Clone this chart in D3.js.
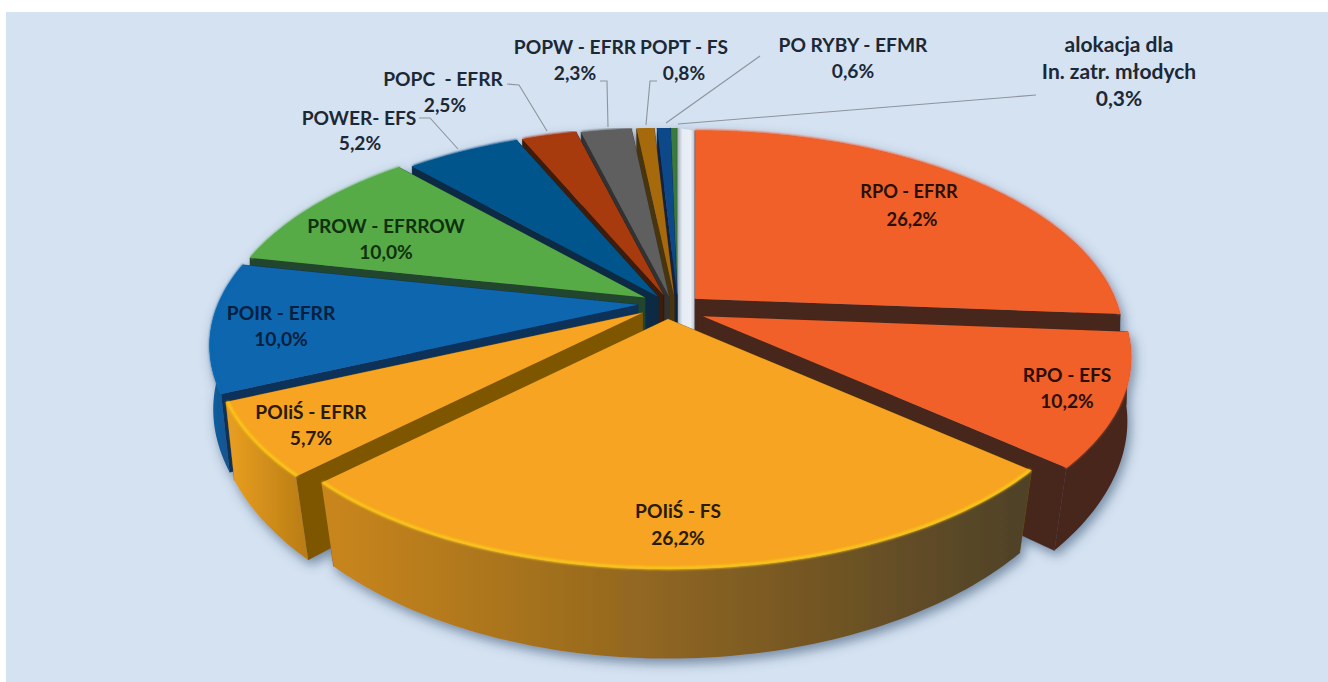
<!DOCTYPE html>
<html><head><meta charset="utf-8">
<script src="https://cdn.jsdelivr.net/npm/d3@7/dist/d3.min.js"></script>
<style>html,body{margin:0;padding:0;background:#fff}svg{display:block}
text{font-family:Lato,"Open Sans",sans-serif;font-weight:700;text-anchor:middle}</style>
</head><body><svg id="c" width="1328" height="682"></svg>
<script>
// ---- data ----
const categories=["RPO - EFRR","RPO - EFS","POIiŚ - FS","POIiŚ - EFRR","POIR - EFRR","PROW - EFRROW","POWER- EFS","POPC  - EFRR","POPW - EFRR","POPT - FS","PO RYBY - EFMR","alokacja"];
const shares=[26.2,10.2,26.2,5.7,10.0,10.0,5.2,2.5,2.3,0.8,0.6,0.3];
const shareLabels=["26,2%","10,2%","26,2%","5,7%","10,0%","10,0%","5,2%","2,5%","2,3%","0,8%","0,6%","0,3%"];
// ---- style ----
const explode=[.075,.082,.075,.085,.077,.074,.061,.06,.055,.055,.055,.055];
const nudgeX=[0,-1,-5,0,-2,0,0,0,1,4,6,5];
const nudgeY=[2,3,-3,-4,-4,-2,0,0,0,0,0,0];
const topColors=["#f26029","#f26029","#f6a420","#f6a420","#0b66ae","#57ab47","#04558c","#a83a0c","#5e5e5e","#a66a08","#0c4a88","#3a7a3c"];
const faceColors=["#47261e","#47261e","#7f5706","#7f5706","#10305a","#24452e","#0c2a45","#3a1a10","#333333","#4a3410","#12233e","#1c3a20"];
const wallStops=[["#47261e","#47261e"],["#46251d","#4a281e"],["#c8851a","#4f4228"],["#e59c20","#b87c14"],["#0f5d9e","#1a4a80"],["#3c7a32","#2f6a2a"],["#04558c","#04558c"],["#a83a0c","#a83a0c"],["#5e5e5e","#5e5e5e"],["#a66a08","#a66a08"],["#0c4a88","#0c4a88"],["#3a7a3c","#3a7a3c"]];
const rimColors=["#f26029","#f26029","#f9c81c","#f9c81c","#0b66ae","#57ab47","#04558c","#a83a0c","#5e5e5e","#a66a08","#0c4a88","#3a7a3c"];
const cx=672,cy=307,Rx=420,Ry=201,persp=.196,depth=72,converge=.05;

const svg=d3.select("#c");
const defs=svg.append("defs");
const f=defs.append("filter").attr("id","sh").attr("x","-10%").attr("y","-10%").attr("width","120%").attr("height","125%");
f.append("feDropShadow").attr("dx",3).attr("dy",5).attr("stdDeviation",6).attr("flood-color","#33506e").attr("flood-opacity",.6);
const soft=defs.append("filter").attr("id","soft");soft.append("feGaussianBlur").attr("stdDeviation",.7);
const rimBlur=defs.append("filter").attr("id","rb");rimBlur.append("feGaussianBlur").attr("stdDeviation",1);

svg.append("rect").attr("x",6).attr("y",12).attr("width",1322).attr("height",670).attr("fill","#d5e2f1");

const arcs=d3.pie().sort(null).startAngle(0).endAngle(2*Math.PI)(shares);
// Offset every slice along its bisector, then project through a shallow perspective.
const slices=arcs.map((a,i)=>{
  const mid=(a.startAngle+a.endAngle)/2;
  return {i,a0:a.startAngle,a1:a.endAngle,mid,
    ox:Math.sin(mid)*explode[i]*Rx+nudgeX[i],oy:-Math.cos(mid)*explode[i]*Ry+nudgeY[i]};
});
function P(s,ang,r,z){
  const X=Math.sin(ang)*r,Y=-Math.cos(ang)*r,k=1/(1-persp*Y),q=1-converge*z*Math.max(0,Y);
  return [cx+s.ox+Rx*X*k*q, cy+s.oy+Ry*Y*k+depth*z*k];
}
const line=d3.line();
const arcAngles=(s)=>{const n=Math.max(3,Math.ceil((s.a1-s.a0)/.02));return d3.range(n+1).map(j=>s.a0+(s.a1-s.a0)*j/n);};
const pieG=svg.append("g").attr("filter","url(#sh)");

// gap left behind by the last and first slices
const last=slices[slices.length-1],first=slices[0];
const gapPts=[P(last,last.a1,1,0),P(first,first.a0,1,0),P(first,first.a0,0,1),P(last,last.a1,0,1)];
const gapG=defs.append("linearGradient").attr("id","gap").attr("gradientUnits","userSpaceOnUse")
  .attr("x1",gapPts[0][0]).attr("x2",gapPts[1][0]).attr("y1",0).attr("y2",0);
[[0,"#98a2ad"],[.3,"#e6ecf4"],[.75,"#eaeff6"],[1,"#b4c0cf"]].forEach(d=>gapG.append("stop").attr("offset",d[0]).attr("stop-color",d[1]));
pieG.append("path").attr("d",line(gapPts)+"Z").attr("fill","url(#gap)");

const order=slices.slice().sort((a,b)=>(-Math.cos(a.mid))-(-Math.cos(b.mid)));
order.forEach(s=>{
  const g=pieG.append("g").attr("filter","url(#soft)");
  const ang=arcAngles(s);
  const gid="w"+s.i,xs=ang.map(a=>P(s,a,1,1)[0]);
  const lg=defs.append("linearGradient").attr("id",gid).attr("gradientUnits","userSpaceOnUse")
    .attr("x1",d3.min(xs)).attr("x2",d3.max(xs)).attr("y1",0).attr("y2",0);
  lg.append("stop").attr("offset",0).attr("stop-color",wallStops[s.i][0]);
  lg.append("stop").attr("offset",1).attr("stop-color",wallStops[s.i][1]);
  const drawFaces=()=>[s.a1,s.a0].forEach(a=>{
    g.append("path").attr("d",line([P(s,a,0,0),P(s,a,1,0),P(s,a,1,1),P(s,a,0,1)])+"Z")
     .attr("fill",faceColors[s.i]).attr("stroke",faceColors[s.i]).attr("stroke-width",.5);
  });
  const drawWall=()=>{
    const wall=ang.map(a=>P(s,a,1,0)).concat(ang.slice().reverse().map(a=>P(s,a,1,1)));
    g.append("path").attr("d",line(wall)+"Z").attr("fill",`url(#${gid})`);
  };
  // back-half slices show their radial face over the wall; front slices the reverse
  if(Math.cos(s.mid)>0){drawWall();drawFaces();}else{drawFaces();drawWall();}
  const top=[P(s,s.a0,0,0)].concat(ang.map(a=>P(s,a,1,0)));
  g.append("path").attr("d",line(top)+"Z").attr("fill",topColors[s.i]);
  g.append("path").attr("d",line(ang.map(a=>P(s,a,.997,0)))).attr("fill","none")
   .attr("stroke",rimColors[s.i]).attr("stroke-width",3).attr("filter","url(#rb)");
});

// leader lines
const leaderX=[[419,430,458],[507,519,547],[600,607,608],[657,650,646],[760,666],[1036,678]];
const leaderY=[[118,118,149],[84,85,131],[81,81,127],[81,81,125],[56,123],[95,124]];
leaderX.forEach((xs,k)=>{
  const pts=xs.map((x,j)=>[x,leaderY[k][j]]);
  svg.append("path").attr("d",line(pts)).attr("fill","none").attr("stroke","#8c949c").attr("stroke-width",1.1);
});

// labels
const outerInk="#1d2836",innerInk=["#2a0f04","#2a0f04","#2a1a02","#2a1a02","#04203e","#10300e"];
const labelNames=["RPO - EFRR","RPO - EFS","POIiŚ - FS","POIiŚ - EFRR","POIR - EFRR","PROW - EFRROW","POWER- EFS","POPC  - EFRR","POPW - EFRR","POPT - FS","PO RYBY - EFMR"];
const nameX=[909,1067,678,311,281,386,359,443,575,684,853];
const nameY=[198,382,518,419,320,233,125,86,54,54,52];
const valX=[912,1067,678,311,281,386,360,445,575,684,853];
const valY=[226,408,545,445,346,259,150,112,80,80,78];
const labelSize=[18.2,19.2,19.2,19.2,19.2,19.2,19.2,19.2,19.2,19.2,19.2];
labelNames.forEach((t,i)=>{
  const ink=i<6?innerInk[i]:outerInk;
  svg.append("text").attr("x",nameX[i]).attr("y",nameY[i]).attr("fill",ink).attr("font-size",labelSize[i]).attr("xml:space","preserve").text(t);
  svg.append("text").attr("x",valX[i]).attr("y",valY[i]).attr("fill",ink).attr("font-size",labelSize[i]).text(shareLabels[i]);
});
const allocLines=["alokacja dla","In. zatr. młodych",shareLabels[11]];
const allocY=[52,79,106];
allocLines.forEach((t,j)=>svg.append("text").attr("x",1119).attr("y",allocY[j]).attr("fill",outerInk).attr("font-size",21).text(t));
</script></body></html>
